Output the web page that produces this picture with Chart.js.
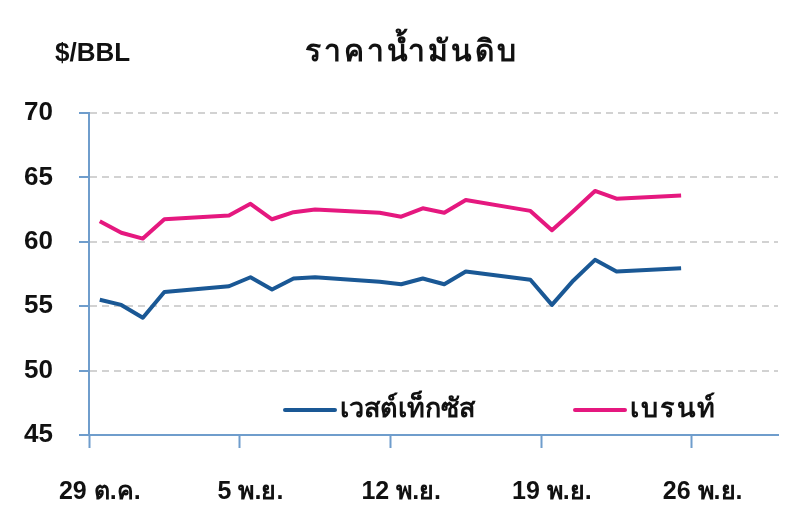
<!DOCTYPE html>
<html>
<head>
<meta charset="utf-8">
<script src="https://cdn.jsdelivr.net/npm/chart.js@4"></script>
<style>
  html, body { margin: 0; padding: 0; background: #ffffff; }
  #wrap { width: 800px; height: 526px; }
</style>
</head>
<body>
<div id="wrap"><canvas id="c" width="800" height="526"></canvas></div>
<script>
// calendar days on the x axis (29 Oct - 29 Nov)
const days = [
  '29 ต.ค.', '30 ต.ค.', '31 ต.ค.', '1 พ.ย.', '2 พ.ย.', '3 พ.ย.', '4 พ.ย.',
  '5 พ.ย.', '6 พ.ย.', '7 พ.ย.', '8 พ.ย.', '9 พ.ย.', '10 พ.ย.', '11 พ.ย.',
  '12 พ.ย.', '13 พ.ย.', '14 พ.ย.', '15 พ.ย.', '16 พ.ย.', '17 พ.ย.', '18 พ.ย.',
  '19 พ.ย.', '20 พ.ย.', '21 พ.ย.', '22 พ.ย.', '23 พ.ย.', '24 พ.ย.', '25 พ.ย.',
  '26 พ.ย.', '27 พ.ย.', '28 พ.ย.', '29 พ.ย.',
]

// $/BBL, null = weekend / no trading
const wti = [
  55.5, 55.1, 54.1, 56.1, null, null, 56.55,
  57.25, 56.3, 57.15, 57.25, null, null, 56.9,
  56.7, 57.15, 56.7, 57.7, null, null, 57.05,
  55.1, 57.0, 58.6, 57.7, null, null, 57.95,
  null, null, null, null,
]
const brent = [
  61.6, 60.7, 60.25, 61.75, null, null, 62.05,
  62.95, 61.75, 62.3, 62.5, null, null, 62.25,
  61.95, 62.6, 62.25, 63.25, null, null, 62.4,
  60.9, 62.4, 63.95, 63.35, null, null, 63.6,
  null, null, null, null,
]

const yTicks = [45, 50, 55, 60, 65, 70]

const AXIS  = '#6f9dcc'
const GRIDC = '#d2d2d2'
const FONT  = '"Liberation Sans", Arial, sans-serif'

// header texts + legend drawn inside the plot
const decor = {
  id: 'decor',
  afterDraw(chart) {
    const { ctx } = chart
    ctx.save()
    ctx.fillStyle = '#111111'
    ctx.font = 'bold 26px ' + FONT
    ctx.textBaseline = 'alphabetic'
    ctx.textAlign = 'left'
    ctx.fillText('$/BBL', 55, 61)
    ctx.font = 'bold 30px ' + FONT
    ctx.letterSpacing = '3px'
    ctx.textAlign = 'center'
    ctx.fillText('ราคาน้ำมันดิบ', 412, 61)

    // legend
    const items = [
      { ds: chart.data.datasets[0], x: 285, sp: '0px' },
      { ds: chart.data.datasets[1], x: 575, sp: '2px' },
    ]
    const ly = 410
    ctx.font = 'bold 27px ' + FONT
    items.forEach(it => {
      ctx.strokeStyle = it.ds.borderColor
      ctx.lineWidth = 4
      ctx.lineCap = 'round'
      ctx.beginPath()
      ctx.moveTo(it.x, ly)
      ctx.lineTo(it.x + 50, ly)
      ctx.stroke()
      ctx.fillStyle = '#111111'
      ctx.textAlign = 'left'
      ctx.textBaseline = 'middle'
      ctx.letterSpacing = it.sp
      ctx.fillText(it.ds.label, it.x + 55, ly)
    })
    ctx.restore()
  }
}

new Chart(document.getElementById('c'), {
  type: 'line',
  data: {
    labels: days,
    datasets: [
      { label: 'เวสต์เท็กซัส', data: wti,   borderColor: '#1a5895', borderWidth: 4 },
      { label: 'เบรนท์',       data: brent, borderColor: '#e5187f', borderWidth: 4 },
    ],
  },
  options: {
    responsive: false,
    animation: false,
    spanGaps: true,
    elements: { point: { radius: 0 }, line: { tension: 0, borderJoinStyle: 'round' } },
    layout: { padding: { top: 113, right: 22, left: 0, bottom: 0 } },
    plugins: { legend: { display: false }, tooltip: { enabled: false } },
    scales: {
      x: {
        type: 'category',
        offset: true,
        grid: {
          offset: true,
          drawOnChartArea: false,
          drawTicks: true,
          tickLength: 13,
          tickWidth: 2,
          tickColor: c => (c.index % 7 === 0 ? AXIS : 'transparent'),
        },
        border: { color: AXIS, width: 2 },
        ticks: {
          autoSkip: false,
          maxRotation: 0,
          padding: 29,
          color: '#111111',
          font: { family: FONT, size: 25, weight: 'bold' },
          callback: (v, i) => (i % 7 === 0 ? days[i] : ''),
        },
        afterFit: s => { s.height = 91 },
      },
      y: {
        min: yTicks[0],
        max: yTicks[yTicks.length - 1],
        afterBuildTicks: s => { s.ticks = yTicks.map(v => ({ value: v })) },
        grid: {
          color: c => (c.tick && c.tick.value === 45 ? 'transparent' : GRIDC),
          lineWidth: 2,
          tickLength: 10,
          tickWidth: 2,
          tickColor: AXIS,
        },
        border: { color: AXIS, width: 2, dash: [7, 5] },
        ticks: {
          padding: 26,
          color: '#111111',
          font: { family: FONT, size: 26, weight: 'bold' },
        },
        afterFit: s => { s.width = 89 },
      },
    },
  },
  plugins: [decor],
})
</script>
</body>
</html>
